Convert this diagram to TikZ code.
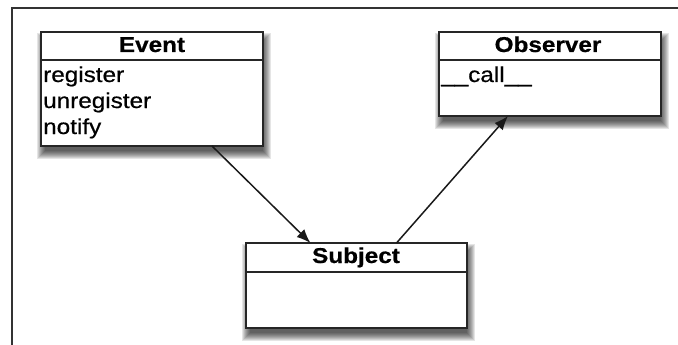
\documentclass[tikz,border=0pt]{standalone}
\usepackage{fontspec}
\setmainfont[FakeStretch=1.13,FakeBold=0.6]{Liberation Sans}
\usetikzlibrary{arrows.meta,calc}
\newcommand\classshadow[4]{%
  \foreach \e in {-2,...,6}{%
    \fill[black,opacity=0.1] ({#1+2-\e},{#2+7-\e}) rectangle ({#3+2+\e},{#4+7+\e});}}
\begin{document}
\begin{tikzpicture}[x=1pt,y=-1pt,
  classbox/.style={draw=black!85, line width=2pt, fill=white, inner sep=0pt, outer sep=0pt, anchor=north west},
  divider/.style={draw=black!85, line width=1.5pt},
  title/.style={font=\fontsize{21.5}{26}\selectfont\bfseries, anchor=base, inner sep=0pt},
  attr/.style={font=\fontsize{21.5}{26}\selectfont, anchor=base west, inner sep=0pt},
  conn/.style={line width=1.5pt, draw=black!90, -{Latex[length=14pt,width=11pt]}},
  frame/.style={draw=black!80, line width=1.3pt}]
\useasboundingbox (0,0) rectangle (678,345);
\draw[frame] (12,345) -- (12,8) -- (678,8);
% shadows
\classshadow{41}{32}{263}{146}
\classshadow{439}{32}{661}{116}
\classshadow{246}{243}{467}{328}
% boxes
\node[classbox, minimum width=222pt, minimum height=114pt] (event) at (41,32) {};
\node[classbox, minimum width=222pt, minimum height=84pt] (observer) at (439,32) {};
\node[classbox, minimum width=221pt, minimum height=85pt] (subject) at (246,243) {};
\draw[divider] ($(event.north west)+(0,28)$) -- ($(event.north east)+(0,28)$);
\draw[divider] ($(observer.north west)+(0,28)$) -- ($(observer.north east)+(0,28)$);
\draw[divider] ($(subject.north west)+(0,29)$) -- ($(subject.north east)+(0,29)$);
% texts
\node[title] (eventT) at (152,52) {Event};
\node[title] (observerT) at (548,52) {Observer};
\node[title] (subjectT) at (356,263) {Subject};
\node[attr] (a1) at (43,82) {register};
\node[attr] (a2) at (43,108) {unregister};
\node[attr] (a3) at (43,134) {notify};
\node[attr] (o1) at (441,82) {\_\_call\_\_};
% connectors
\draw[conn] ([xshift=60pt]event.south) -- ([xshift=-46pt]subject.north);
\draw[conn] ([xshift=40pt]subject.north) -- ([xshift=-42pt]observer.south);
\end{tikzpicture}
\end{document}
